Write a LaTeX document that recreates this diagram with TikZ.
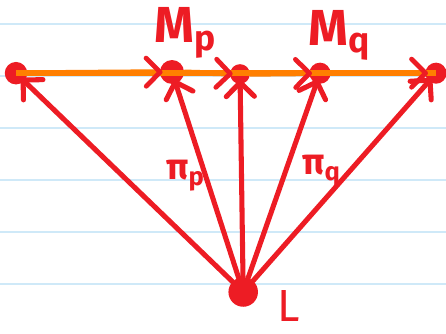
\documentclass[tikz,border=0pt]{standalone}
\usepackage{fontspec}
\setmainfont{Fira Sans}
\usetikzlibrary{arrows.meta,positioning}
\definecolor{InkRed}{RGB}{237,28,36}
\definecolor{InkOrange}{RGB}{255,127,0}
\definecolor{RuleBlue}{RGB}{207,233,248}
\tikzset{
  inkdot/.style={circle,fill=InkRed,inner sep=0pt,minimum size=#1},
  inkdot/.default=12pt,
  ray/.style={draw=InkRed,line width=3.6pt,line cap=round,shorten >=-3pt,
    -{Straight Barb[length=10pt,width=20pt,round]}},
  seg/.style={draw=InkOrange,line width=4pt,shorten >=-2pt,
    -{Straight Barb[length=10pt,width=20pt,round,color=InkRed,line width=3.4pt]}},
  lbl/.style={text=InkRed,font=\bfseries,anchor=base west,inner sep=0pt}
}
\begin{document}
\begin{tikzpicture}
\fill[white] (0,0) rectangle (11.15,8.35);
\useasboundingbox (0,0) rectangle (11.15,8.35);
% ruled paper
\foreach \y in {7.75,6.45,5.15,3.85,2.55,1.25}{\draw[RuleBlue,line width=1.2pt] (0,\y) -- (11.15,\y);}
% points on the line and L below
\node[inkdot=16pt] (a) at (0.4,6.52) {};
\node[inkdot=17pt] (p) at (4.3,6.55) {};
\node[inkdot=14pt] (m) at (6.0,6.5) {};
\node[inkdot=15pt] (q) at (8.0,6.52) {};
\node[inkdot=15pt] (b) at (10.9,6.52) {};
\node[inkdot=21pt] (L) at (6.08,1.05) {};
% the orange line
\draw[InkOrange,line width=4pt] (a.center) -- (b.center);
\foreach \s/\t in {a/p,p/m,m/q,q/b}{\draw[seg] (\s) -- (\t);}
\foreach \t in {a,p,m,q,b}{\draw[ray] (L) -- (\t);}
% labels
\node[lbl,font=\bfseries\fontsize{36}{36}\selectfont] (mp) at (3.85,7.28) {M\textsubscript{p}};
\node[lbl,font=\bfseries\fontsize{36}{36}\selectfont] (mq) at (7.7,7.22) {M\textsubscript{q}};
\node[lbl,font=\bfseries\fontsize{26}{26}\selectfont] (pip) at (4.15,3.85) {π\textsubscript{p}};
\node[lbl,font=\bfseries\fontsize{26}{26}\selectfont] (piq) at (7.55,3.98) {π\textsubscript{q}};
\node[lbl,font=\fontsize{32}{32}\selectfont] (l) at (6.92,0.3) {L};
\end{tikzpicture}
\end{document}
